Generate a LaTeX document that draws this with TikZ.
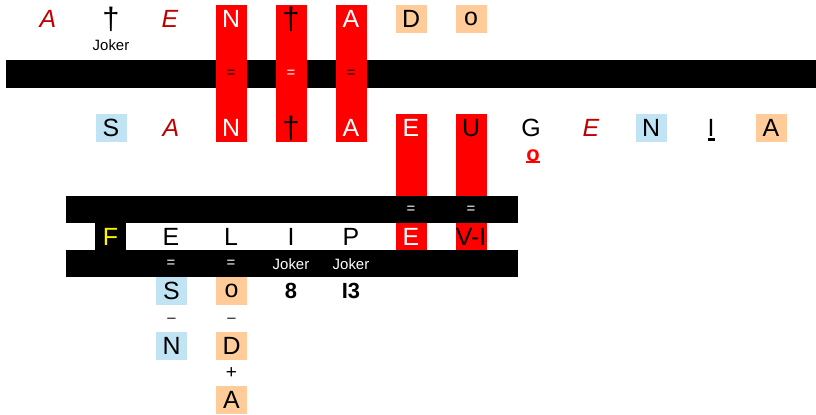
\documentclass[tikz,border=0pt]{standalone}
\usepackage{fontspec}
\setmainfont{Liberation Sans}
\definecolor{jokred}{HTML}{C00000}
\definecolor{skyb}{HTML}{C1E4F5}
\definecolor{peach}{HTML}{FFCC99}
\begin{document}
\begin{tikzpicture}[x=1bp, y=-1bp,
    ltr/.style={font=\fontsize{25}{25}\selectfont, inner sep=0pt, minimum width=31bp, minimum height=28bp},
    jk/.style={ltr, text=jokred, font=\fontsize{25}{25}\selectfont\itshape},
    wt/.style={ltr, text=white},
    dg/.style={ltr, font=\fontsize{31}{31}\selectfont},
    blu/.style={ltr, fill=skyb},
    ora/.style={ltr, fill=peach},
    bld/.style={ltr, font=\fontsize{22}{22}\selectfont\bfseries},
    sm/.style={font=\fontsize{15}{15}\selectfont, inner sep=0pt},
    eqs/.style={font=\fontsize{15}{15}\selectfont, inner sep=0pt}]
  \useasboundingbox (0,0) rectangle (816,414);
  % bars and red columns
  \fill (6,60) rectangle (816,88);
  \foreach \x in {216,276,336} \fill[red] (\x,5) rectangle +(31,137);
  \foreach \x in {396,456} \fill[red] (\x,114) rectangle +(31,136);
  \fill (66,196) rectangle (518,223);
  \fill (66,250) rectangle (518,277);
  % top row
  \foreach \x/\s/\v [count=\i] in {48/jk/A, 111/dg/†, 170/jk/E, 231/wt/N, 291/dg/†, 351/wt/A, 411/ora/D, 471/ora/o}
    \node[\s] (top\i) at (\x,19) {\v};
  \node[sm] (jokA) at (111,45) {Joker};
  \foreach \x/\c [count=\i] in {231/black, 291/white, 351/black}
    \node[eqs, text=\c] (eqA\i) at (\x,74) {=};
  % second row
  \foreach \s/\v [count=\i from 0] in {blu/S, jk/A, wt/N, dg/†, wt/A, wt/E, ltr/U, ltr/G, jk/E, blu/N, ltr/I, ora/A}
    \node[\s] (mid\i) at (111+60*\i,128) {\v};
  \node[bld, text=red, minimum width=0pt, minimum height=0pt] (oG) at (533,156) {o};
  \draw[red, line width=2.5bp] (oG.south west) -- (oG.south east);
  \draw[line width=2.5bp] ([xshift=-3.5bp,yshift=2.5bp]mid10.south) -- ([xshift=3.5bp,yshift=2.5bp]mid10.south);
  % third row
  \node[ltr, fill=black, text=yellow] (rowF) at (110.5,236.5) {F};
  \foreach \s/\v [count=\i from 1] in {ltr/E, ltr/L, ltr/I, ltr/P, wt/E, ltr/V-I}
    \node[\s] (low\i) at (111+60*\i,236.5) {\v};
  \foreach \x in {411,471} \node[eqs, text=white] at (\x,210) {=};
  \foreach \x/\v [count=\i] in {171/=, 231/=} \node[eqs, text=white] (eqC\i) at (\x,264) {\v};
  \foreach \x [count=\i] in {291,351} \node[sm, text=white] (jokC\i) at (\x,264) {Joker};
  % below
  \node[blu] (sub1) at (171.5,291) {S};
  \node[ora] (sub2) at (231.5,291) {o};
  \node[bld] (sub3) at (291,291) {8};
  \node[bld] (sub4) at (351,291) {I3};
  \node[eqs] (minA) at (171.5,320) {–};
  \node[eqs] (minB) at (231.5,320) {–};
  \node[blu] (sub5) at (171.5,346) {N};
  \node[ora] (sub6) at (231.5,346) {D};
  \node[sm, font=\fontsize{19}{19}\selectfont] (plus) at (231.5,373) {+};
  \node[ora] (sub7) at (231.5,400) {A};
\end{tikzpicture}
\end{document}
